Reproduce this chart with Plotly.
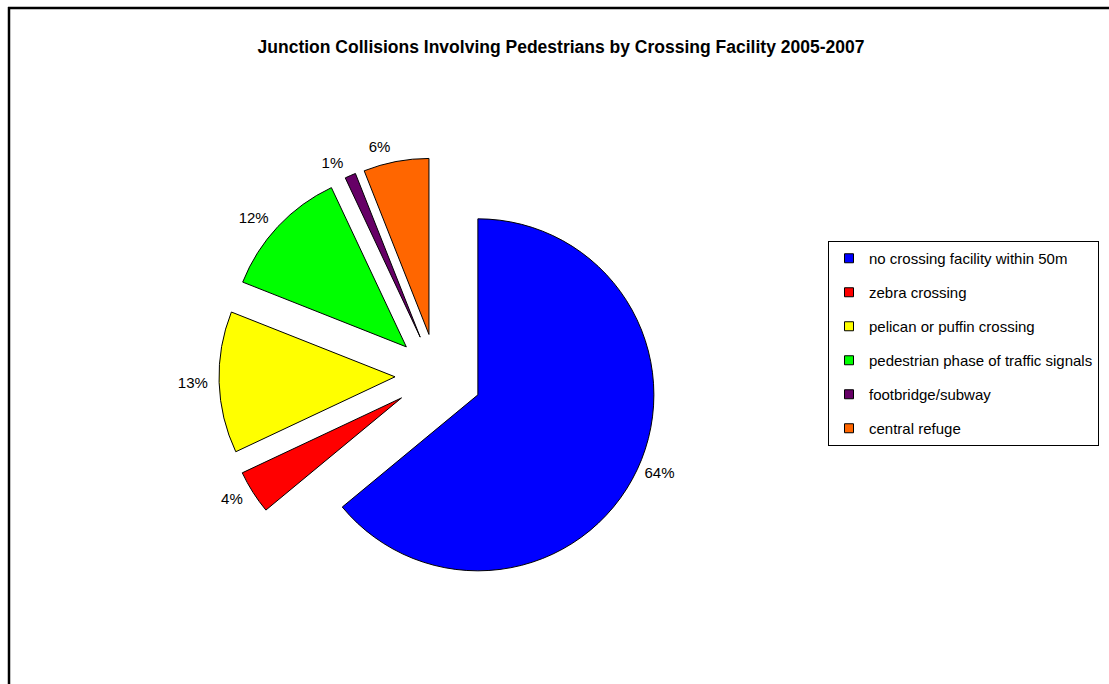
import plotly.graph_objects as go

categories = [
    "no crossing facility within 50m",
    "zebra crossing",
    "pelican or puffin crossing",
    "pedestrian phase of traffic signals",
    "footbridge/subway",
    "central refuge",
]
shares = [64, 4, 13, 12, 1, 6]
colors = ["#0000FF", "#FF0000", "#FFFF00", "#00FF00", "#660066", "#FF6600"]
explode_px = [45.4, 41.8, 41.8, 41.8, 41.8, 41.8]
# labels drawn in two passes so that neighbouring small-slice labels are not pushed apart
label_pass_a = ["outside", "outside", "outside", "outside", "none", "outside"]
label_pass_b = ["none", "none", "none", "none", "outside", "none"]
title_text = "Junction Collisions Involving Pedestrians by Crossing Facility 2005-2007"

W, H = 1109, 684
FONT = "Liberation Sans, Arial, sans-serif"
CX, CY = 436.8, 375.5      # pie centre in pixels
R = 176.0                   # pie radius in pixels
R_LABEL = 183.0             # radius used for placing percentage labels


def domain_for(radius, max_pull_px):
    half = radius + max_pull_px
    return dict(x=[(CX - half) / W, (CX + half) / W], y=[1 - (CY + half) / H, 1 - (CY - half) / H])


fig = go.Figure()
fig.add_trace(go.Pie(
    labels=categories,
    values=shares,
    sort=False,
    direction="clockwise",
    rotation=0,
    pull=[p / R for p in explode_px],
    marker=dict(colors=colors, line=dict(color="black", width=1)),
    textinfo="none",
    showlegend=False,
    hoverinfo="label+percent",
    domain=domain_for(R, max(explode_px)),
))

label_pull = sum(explode_px[1:]) / len(explode_px[1:])
for positions in (label_pass_a, label_pass_b):
    fig.add_trace(go.Pie(
        labels=categories,
        values=shares,
        sort=False,
        direction="clockwise",
        rotation=0,
        pull=label_pull / R_LABEL,
        marker=dict(colors=["rgba(0,0,0,0)"] * len(shares), line=dict(width=0)),
        texttemplate="%{percent:.0%}",
        textposition=positions,
        textfont=dict(family=FONT, size=15, color="black"),
        showlegend=False,
        hoverinfo="skip",
        domain=domain_for(R_LABEL, label_pull),
    ))

for name, col in zip(categories, colors):
    fig.add_trace(go.Scatter(
        x=[None], y=[None], mode="markers", name=name, legendgroup=name,
        marker=dict(symbol="square", size=9, color=col, line=dict(color="black", width=1)),
        showlegend=True, hoverinfo="skip",
    ))

fig.update_layout(
    width=W, height=H,
    margin=dict(l=0, r=0, t=0, b=0),
    paper_bgcolor="white", plot_bgcolor="white",
    font=dict(family=FONT, size=15, color="black"),
    title=dict(text=title_text, x=561 / W, xanchor="center", y=1 - 47 / H, yanchor="middle",
               font=dict(family=FONT, size=17.5, color="black", weight="bold")),
    xaxis=dict(visible=False), yaxis=dict(visible=False),
    legend=dict(x=828 / W, y=1 - 241 / H, xanchor="left", yanchor="top",
                bordercolor="black", borderwidth=1, bgcolor="white",
                font=dict(family=FONT, size=15, color="black"),
                itemwidth=30,
                traceorder="grouped", tracegroupgap=11.5),
    shapes=[
        dict(type="line", xref="paper", yref="paper", x0=8 / W, x1=1.02, y0=1 - 8 / H, y1=1 - 8 / H,
             line=dict(color="black", width=2.5)),
        dict(type="line", xref="paper", yref="paper", x0=9 / W, x1=9 / W, y0=1 - 7 / H, y1=-0.02,
             line=dict(color="black", width=2.5)),
    ],
)

fig.write_html("out.html", config={"displayModeBar": False},
               post_script="document.body.style.margin='0';document.body.style.overflow='hidden';")
